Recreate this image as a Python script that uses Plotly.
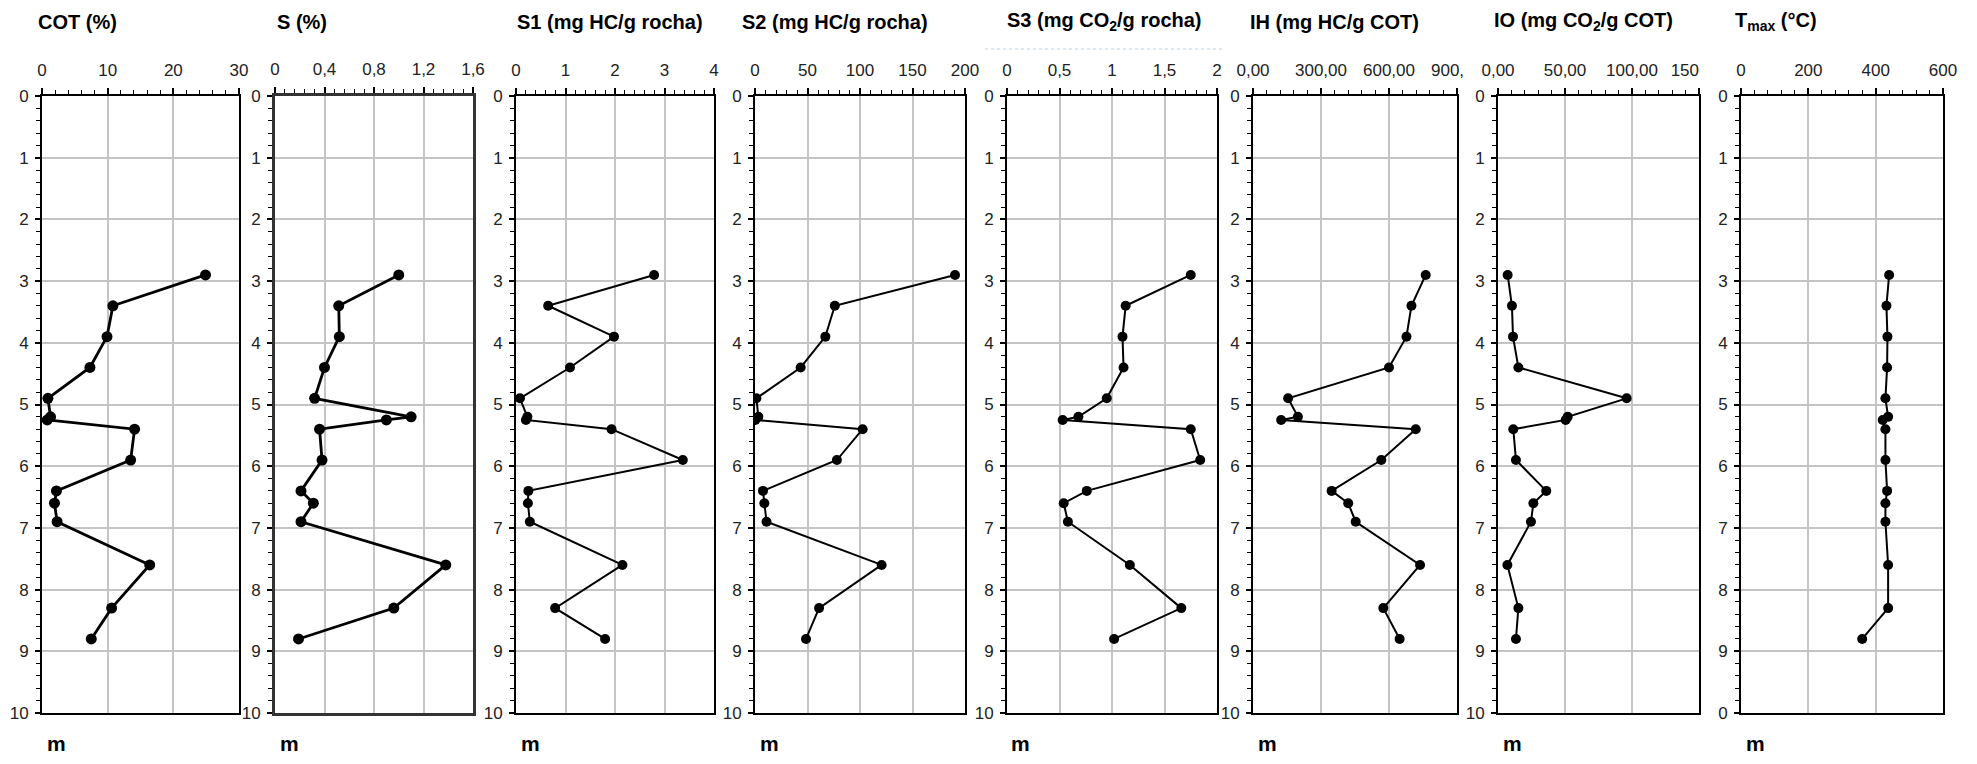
import plotly.graph_objects as go

# ---------------- data ----------------
depth = [2.9, 3.4, 3.9, 4.4, 4.9, 5.2, 5.25, 5.4, 5.9, 6.4, 6.6, 6.9, 7.6, 8.3, 8.8]

cot = [24.9, 10.8, 9.9, 7.3, 0.9, 1.3, 0.8, 14.1, 13.5, 2.2, 1.9, 2.3, 16.4, 10.6, 7.5]
s_pct = [1.00, 0.515, 0.52, 0.40, 0.32, 1.10, 0.90, 0.36, 0.38, 0.21, 0.31, 0.21, 1.38, 0.96, 0.19]
s1 = [2.79, 0.65, 1.98, 1.09, 0.08, 0.23, 0.20, 1.93, 3.37, 0.25, 0.24, 0.28, 2.15, 0.79, 1.80]
s2 = [190.5, 76, 67, 43.5, 1.3, 3.2, 0.3, 102.5, 78, 7.6, 8.9, 11, 120.6, 61, 48.6]
s3 = [1.75, 1.13, 1.10, 1.11, 0.95, 0.68, 0.53, 1.75, 1.84, 0.76, 0.54, 0.58, 1.17, 1.66, 1.02]
ih = [762, 699, 677, 600, 155, 198, 124, 718, 566, 347, 420, 453, 737, 575, 647]
io = [7.2, 10.4, 11.2, 15.2, 96, 52, 50.5, 11.4, 13.4, 36, 26.4, 24.6, 7.0, 15.2, 13.4]
tmax = [440, 432, 435, 434, 429, 437, 421, 429, 429, 434, 429, 429, 437, 437, 360]

titles = ["COT (%)", "S (%)", "S1 (mg HC/g rocha)", "S2 (mg HC/g rocha)",
          "S3 (mg CO<sub>2</sub>/g rocha)", "IH (mg HC/g COT)",
          "IO (mg CO<sub>2</sub>/g COT)", "T<sub>max</sub> (°C)"]
series = [cot, s_pct, s1, s2, s3, ih, io, tmax]

HIDE = "<span style='color:rgba(0,0,0,0)'>{}</span>"
x_ranges = [[0, 30], [0, 1.6], [0, 4], [0, 200], [0, 2], [0, 900], [0, 150], [0, 600]]
x_tickvals = [[0, 10, 20, 30], [0, 0.4, 0.8, 1.2, 1.6], [0, 1, 2, 3, 4],
              [0, 50, 100, 150, 200], [0, 0.5, 1, 1.5, 2], [0, 300, 600, 900],
              [0, 50, 100, 150], [0, 200, 400, 600]]
x_ticktext = [["0", "10", "20", "30"], ["0", "0,4", "0,8", "1,2", "1,6"],
              ["0", "1", "2", "3", "4"], ["0", "50", "100", "150", "200"],
              ["0", "0,5", "1", "1,5", "2"],
              ["0,00", "300,00", "600,00", "900," + HIDE.format("00")],
              ["0,00", "50,00", "100,00", "150" + HIDE.format("000")],
              ["0", "200", "400", "600"]]
x_minor = [2, 0.08, 0.2, 10, 0.1, 60, 10, 40]

depth_ticks = [0, 1, 2, 3, 4, 5, 6, 7, 8, 9, 10]
depth_text = ["0", "1", "2", "3", "4", "5", "6", "7", "8", "9", "10"]
depth_text_last = ["0", "1", "2", "3", "4", "5", "6", "7", "8", "9", "0"]

# ---------------- layout geometry (pixels in the 1977x764 window) ----------------
OFF = 8                      # default body margin of the html page
W, H = 1977 - 2 * OFF, 764 - 2 * OFF
panels_px = [(42, 239), (275, 473), (516, 714), (755, 965),
             (1007, 1217), (1253, 1457), (1498, 1699), (1741, 1943)]
title_x_px = [36, 275, 515, 740, 1005, 1248, 1492, 1733]
top_px, bot_px = 96, 713


def px(xp):
    return (xp - OFF) / W


def py(yp):
    return 1 - (yp - OFF) / H


ydom = [py(bot_px), py(top_px)]

FONT = "Liberation Sans, Arial, sans-serif"

fig = go.Figure()
layout = dict(
    template="none",
    width=W, height=H, autosize=False,
    margin=dict(l=0, r=0, t=0, b=0, pad=0, autoexpand=False),
    paper_bgcolor="white", plot_bgcolor="white",
    showlegend=False,
    font=dict(family=FONT, color="#1a1a1a"),
)

annotations = []
for i, (vals, (l, r)) in enumerate(zip(series, panels_px)):
    k = "" if i == 0 else str(i + 1)
    fig.add_trace(go.Scatter(
        x=vals, y=depth, mode="lines+markers",
        xaxis="x" + k, yaxis="y" + k,
        line=dict(color="black", width=2.8 if i < 2 else 2),
        marker=dict(color="black", size=11 if i < 2 else 10),
        hoverinfo="skip",
    ))
    box_w = 3 if i == 1 else 2
    box_c = "#333333" if i == 1 else "black"
    layout["xaxis" + k] = dict(
        domain=[px(l), px(r)], anchor="y" + k, side="top",
        range=x_ranges[i], tickmode="array", automargin=False,
        tickvals=x_tickvals[i], ticktext=x_ticktext[i], tickangle=0,
        ticks="outside", ticklen=6, tickwidth=1.5, tickcolor="black",
        ticklabelstandoff=5,
        minor=dict(dtick=x_minor[i], tick0=0, ticks="outside", ticklen=4,
                   tickwidth=1.2, tickcolor="black", showgrid=False),
        showgrid=True, gridcolor="#c4c4c4", gridwidth=1.5,
        showline=True, linecolor=box_c, linewidth=box_w, mirror=True,
        zeroline=False, fixedrange=True,
        tickfont=dict(size=17, family=FONT, color="#222"),
    )
    layout["yaxis" + k] = dict(
        domain=ydom, anchor="x" + k, range=[10, 0], automargin=False,
        tickmode="array", tickvals=depth_ticks,
        ticktext=depth_text_last if i == 7 else depth_text,
        ticks="outside", ticklen=5, tickwidth=1.5, tickcolor="black",
        ticklabelstandoff=3,
        minor=dict(dtick=0.2, tick0=0, ticks="outside", ticklen=4,
                   tickwidth=1.2, tickcolor="black", showgrid=False),
        showgrid=True, gridcolor="#c4c4c4", gridwidth=1.5,
        showline=True, linecolor=box_c, linewidth=box_w, mirror=True,
        zeroline=False, fixedrange=True,
        tickfont=dict(size=17, family=FONT, color="#222"),
    )
    annotations.append(dict(
        text="<b>" + titles[i] + "</b>", xref="paper", yref="paper",
        x=px(title_x_px[i]), y=py(22), xanchor="left", yanchor="middle",
        showarrow=False, font=dict(size=20, family=FONT, color="black"),
    ))
    annotations.append(dict(
        text="<b>m</b>", xref="paper", yref="paper",
        x=px(l + 14), y=py(743), xanchor="center", yanchor="middle",
        showarrow=False, font=dict(size=21, family=FONT, color="black"),
    ))

layout["annotations"] = annotations
layout["shapes"] = [dict(
    type="line", xref="paper", yref="paper",
    x0=px(985), x1=px(1222), y0=py(49), y1=py(49),
    line=dict(color="#b7d3ee", width=1, dash="dot"),
)]
fig.update_layout(**layout)

fig.write_html("out.html", config={"displayModeBar": False})
